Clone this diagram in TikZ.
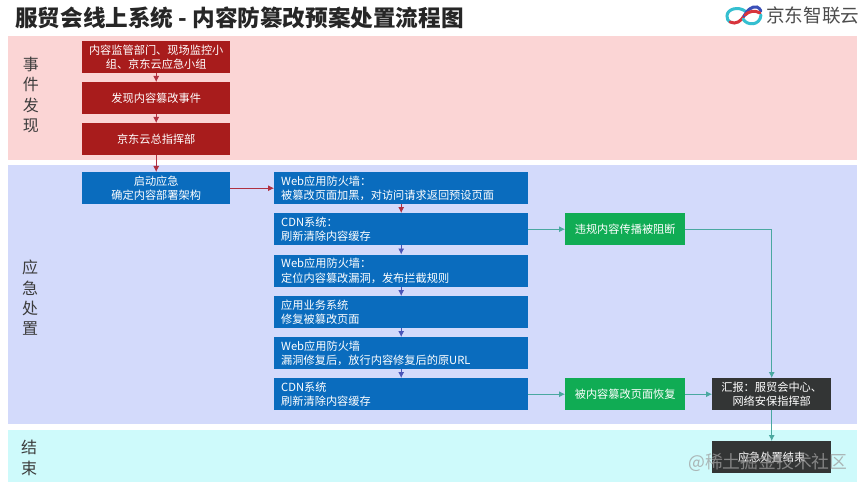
\documentclass[tikz,border=0pt]{standalone}
\usepackage{fontspec}
\setmainfont{Noto Sans CJK SC}
\usetikzlibrary{arrows.meta}
\definecolor{pinkbg}{HTML}{FBD5D5}
\definecolor{bluebg}{HTML}{D3DAFB}
\definecolor{cyanbg}{HTML}{CEFAFB}
\definecolor{redbox}{HTML}{A81C1C}
\definecolor{bluebox}{HTML}{0A6CBE}
\definecolor{greenbox}{HTML}{10AC54}
\definecolor{darkbox}{HTML}{333535}
\definecolor{redline}{HTML}{B03040}
\definecolor{purpleline}{HTML}{4A55B8}
\definecolor{tealline}{HTML}{4AA8A0}
\definecolor{sidetext}{HTML}{3C3C3C}
\definecolor{logocyan}{HTML}{35BFD0}
\definecolor{logored}{HTML}{D8343C}
\definecolor{logoblue}{HTML}{3A4FB8}
\tikzset{
  panel/.style={draw=none,minimum width=849pt,inner sep=0pt,anchor=north west},
  flowbox/.style={draw=none,text=white,font=\fontsize{11.2}{14.5}\selectfont,inner sep=0pt,align=center,minimum height=32pt,anchor=north west},
  redb/.style={flowbox,fill=redbox,minimum width=148pt},
  startb/.style={flowbox,fill=bluebox,minimum width=148pt},
  sysb/.style={flowbox,fill=bluebox,minimum width=254pt,align=left,text width=240pt},
  greenb/.style={flowbox,fill=greenbox,minimum width=120pt},
  darkb/.style={flowbox,fill=darkbox,minimum width=119pt},
  side/.style={text=sidetext,font=\fontsize{16}{20.3}\selectfont,align=center,inner sep=0pt},
  redarrow/.style={draw=redline,line width=0.8pt,-{Latex[length=6pt,width=6pt]}},
  purplearrow/.style={draw=purpleline,line width=0.8pt,-{Latex[length=6pt,width=6pt]}},
  tealarrow/.style={draw=tealline,line width=0.8pt,-{Latex[length=6pt,width=6pt]}},
  logoline/.style={line width=3pt,line cap=round},
}
\begin{document}
\begin{tikzpicture}[x=1pt,y=-1pt]
\useasboundingbox (0,0) rectangle (864,489);
\fill[white] (0,0) rectangle (864,489);
% panels
\node[panel,fill=pinkbg,minimum height=124pt] (p1) at (8,36) {};
\node[panel,fill=bluebg,minimum height=259pt] (p2) at (8,165) {};
\node[panel,fill=cyanbg,minimum height=52pt] (p3) at (8,430) {};
% title
\node[anchor=west,inner sep=0pt,text=black!85,font=\fontsize{22.6}{26}\selectfont\bfseries] (title) at (15,18) {服贸会线上系统 - 内容防篡改预案处置流程图};
% side labels
\node[side] (s1) at (31,95) {事\\件\\发\\现};
\node[side] (s2) at (30,298) {应\\急\\处\\置};
\node[side] (s3) at (29,458) {结\\束};
% red boxes
\node[redb] (r1) at (82,41) {内容监管部门、现场监控小\\组、京东云应急小组};
\node[redb] (r2) at (82,82) {发现内容篡改事件};
\node[redb] (r3) at (82,123) {京东云总指挥部};
\node[startb] (st) at (82,172) {启动应急\\确定内容部署架构};
% system boxes
\node[sysb] (b1) at (274,172) {Web应用防火墙：\\被篡改页面加黑，对访问请求返回预设页面};
\node[sysb] (b2) at (274,213) {CDN系统：\\刷新清除内容缓存};
\node[sysb] (b3) at (274,254.5) {Web应用防火墙：\\定位内容篡改漏洞，发布拦截规则};
\node[sysb] (b4) at (274,296) {应用业务系统\\修复被篡改页面};
\node[sysb] (b5) at (274,337) {Web应用防火墙\\漏洞修复后，放行内容修复后的原URL};
\node[sysb] (b6) at (274,378) {CDN系统\\刷新清除内容缓存};
% green and dark
\node[greenb] (g1) at (565,213) {违规内容传播被阻断};
\node[greenb] (g2) at (565,378) {被内容篡改页面恢复};
\node[darkb] (d1) at (712,378) {汇报：服贸会中心、\\网络安保指挥部};
\node[darkb] (d2) at (712,441) {应急处置结束};
% connectors
\draw[redarrow] (r1) -- (r2);
\draw[redarrow] (r2) -- (r3);
\draw[redarrow] (r3) -- (st);
\draw[redarrow] (st) -- (b1);
\draw[redarrow] (b1) -- (b2);
\draw[purplearrow] (b2) -- (b3);
\draw[purplearrow] (b3) -- (b4);
\draw[purplearrow] (b4) -- (b5);
\draw[purplearrow] (b5) -- (b6);
\draw[tealarrow] (b2) -- (g1);
\draw[tealarrow] (b6) -- (g2);
\draw[tealarrow] (g2) -- (d1);
\draw[tealarrow] (g1.east) -| (d1.north);
\draw[tealarrow] (d1) -- (d2);
% logo
\draw[logoline,draw=logocyan] (745,11) .. controls (738,6) and (727,9) .. (727,16) .. controls (727,19) and (728,21) .. (730,22);
\draw[logoline,draw=logored] (730,22) .. controls (736,25) and (741,21) .. (744,16);
\draw[logoline,draw=logoblue] (744,16) .. controls (747,10) and (752,6) .. (757,7) .. controls (759,8) and (760,9) .. (761,11);
\draw[logoline,draw=logored] (745,15) .. controls (749,11) and (755,10) .. (760,13);
\draw[logoline,draw=logocyan] (743,19) .. controls (747,26) and (760,26) .. (761,15);
\node[anchor=west,inner sep=0pt,text=black!70,font=\fontsize{18.6}{20}\selectfont] (logo) at (766,15.5) {京东智联云};
% watermark
\node[anchor=west,inner sep=0pt,text=gray!75,opacity=0.75,font=\fontsize{17.8}{20}\selectfont] (wm) at (688,462) {@稀土掘金技术社区};
\end{tikzpicture}
\end{document}
